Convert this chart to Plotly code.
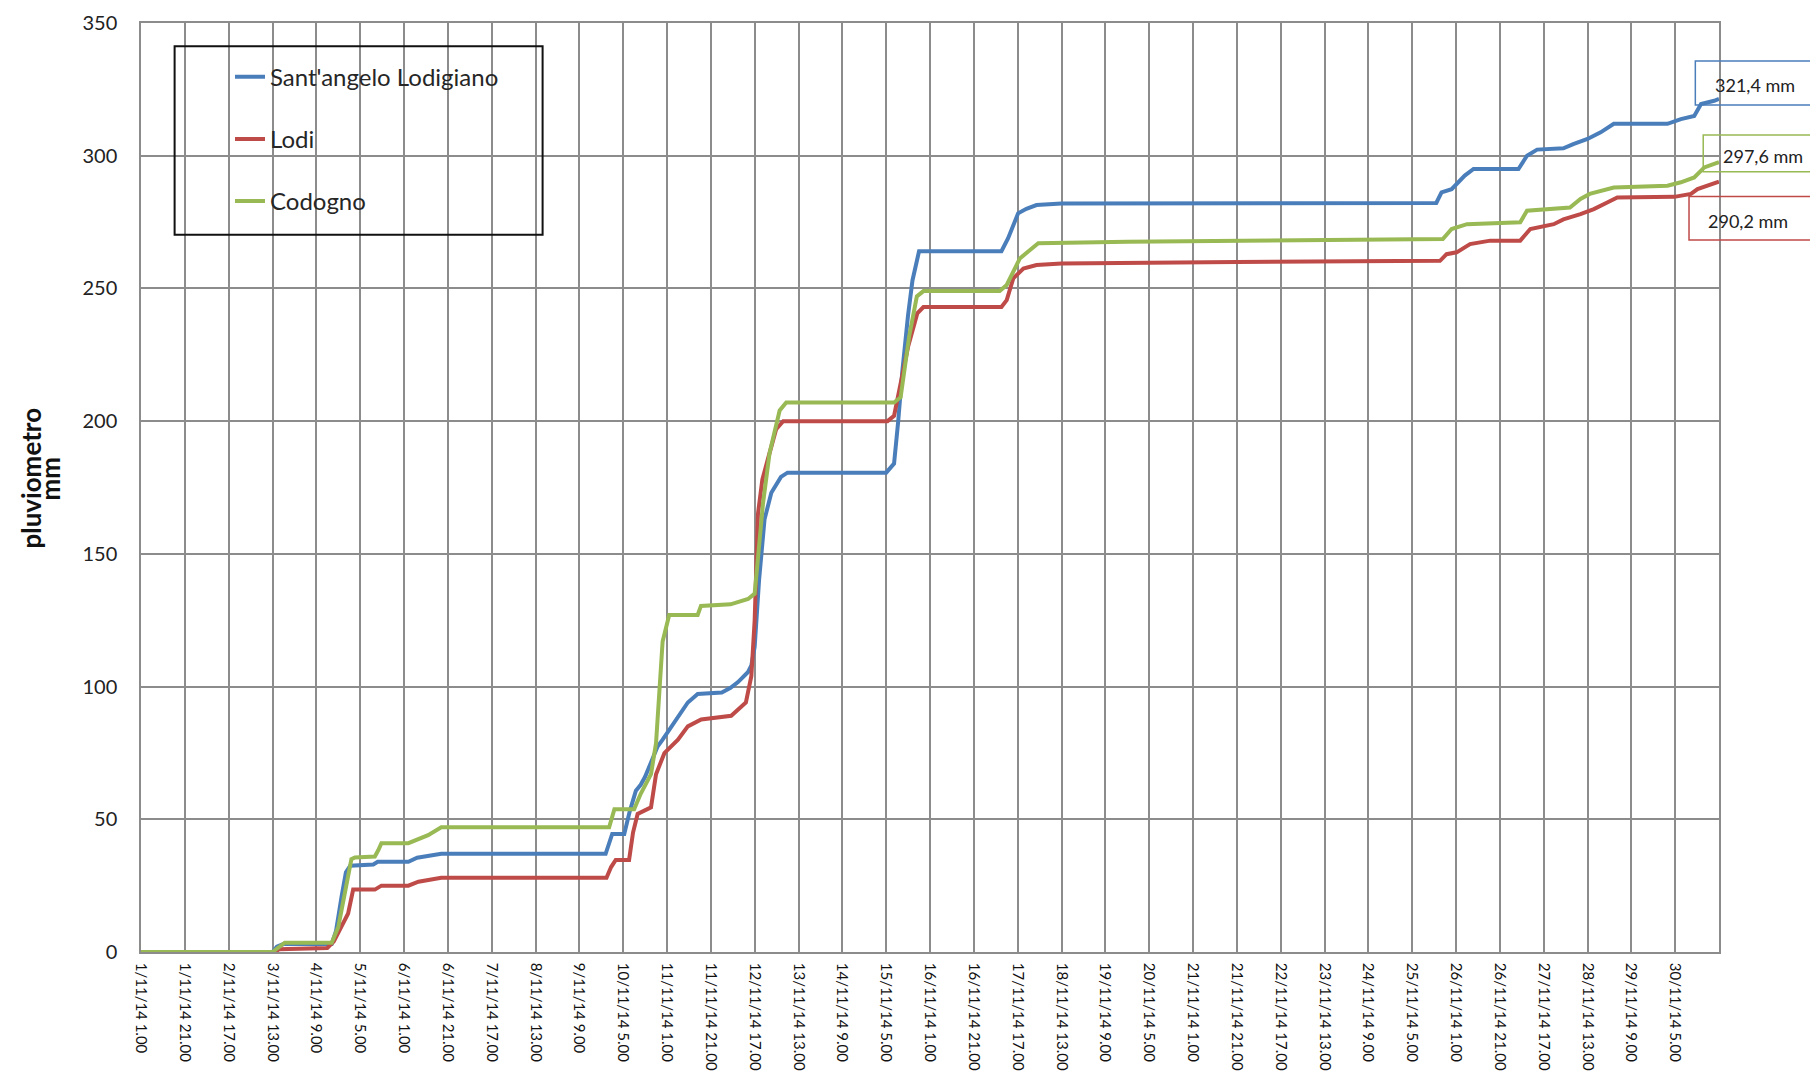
import plotly.graph_objects as go

# ---- data (hours from 1/11/14 1.00, cumulative mm) ----
hours_sa = [0, 60, 62, 65, 87, 89, 91.5, 93.5, 95.5, 106, 108, 122, 126, 132, 137, 212, 213.5, 215, 220.5,
            223, 225.8, 228, 230, 233, 235.7, 238, 240, 243, 245, 249.5, 254, 265, 269, 272.4, 277, 278.5,
            280, 282, 284.5, 287.6, 292, 295, 340, 343.6, 345.5, 347.4, 350, 352, 355, 392.6, 395.6, 398,
            400.2, 404, 408.6, 420, 591, 593.4, 598, 604, 608, 628.5, 632.4, 637, 649, 653.5, 660, 666,
            672, 696.5, 702.6, 708.7, 711.8, 717.8, 720]
mm_sa = [0, 0, 2, 3, 3, 8, 20.8, 30, 32.5, 33, 34, 34, 35.5, 36.5, 37, 37, 41, 44.5, 44.5,
         53, 60.8, 63, 66, 72, 77.4, 80, 82.5, 86, 89, 94, 97.2, 97.8, 99.5, 101.7, 105.5, 108,
         115, 140, 163, 173, 179, 180.6, 180.6, 184, 200, 219, 240, 253, 264, 264, 268.8, 274,
         278.3, 280, 281.4, 282, 282.2, 286.2, 287.4, 292.5, 295, 295, 300, 302.3, 302.8, 304.4, 306.3, 308.8,
         312, 312, 313.8, 315, 319.5, 320.7, 321.4]

hours_lodi = [0, 61, 63, 85, 88, 91.5, 94.5, 96.8, 106.7, 109.7, 122, 126.6, 137, 212.4, 214.5, 216.6, 222.7,
              224.5, 226.6, 232.7, 235, 238.8, 245, 249.5, 255.6, 269.3, 276, 278.5, 280, 281.5, 283.5, 286,
              289.8, 293, 340.6, 343.6, 346, 350, 354.2, 357, 392.6, 395, 398, 402.6, 408.6, 420, 500, 592.7,
              595.7, 600.3, 606.4, 615.6, 629.3, 633.9, 644.6, 649, 656.8, 662.9, 669, 673.6, 699.6, 707.2,
              710.2, 716.3, 720]
mm_lodi = [0, 0, 1, 1.5, 4, 9.4, 14.5, 23.5, 23.5, 25, 25, 26.5, 28, 28, 32, 34.7, 34.7,
           45, 52, 54.5, 67, 74.9, 80, 85, 87.6, 89, 94, 104, 125, 165, 178, 185.6,
           197, 200, 200, 202, 212, 228, 240.6, 243, 243, 245.6, 253.8, 257.5, 258.8, 259.4, 260, 260.4,
           262.9, 263.6, 266.7, 268, 268, 272.4, 274.2, 276, 278, 279.9, 282.4, 284.3, 284.5, 285.6,
           287.4, 289.3, 290.2]

hours_cod = [0, 60, 65.6, 87, 90, 93, 96, 97.6, 106.7, 108.3, 109.7, 122, 125, 131, 137, 213.6, 216, 225,
             228, 232.7, 235, 236.5, 238, 241, 254, 255.5, 269, 277, 280, 283.8, 286.8, 291.4, 294.4, 343.6,
             346.6, 350.5, 354, 357, 391.8, 395, 398, 401, 405.5, 409.4, 450, 594, 598, 605, 629.3, 632.4,
             652, 656.8, 661, 672, 696.5, 702.6, 708.7, 713.3, 720]
mm_cod = [0, 0, 3.5, 3.5, 9.4, 23, 35, 35.6, 36, 38.4, 41, 41, 42, 44, 47, 47, 53.8, 53.8,
          59.6, 67, 78.7, 97.8, 117, 127, 127, 130.4, 131, 133, 135, 169, 188, 204, 207, 207,
          209, 232, 247, 249, 249, 251.3, 256.3, 261.3, 264.4, 267, 267.6, 268.6, 272.4, 274.2, 274.9, 279.3,
          280.5, 283.7, 285.6, 288, 288.7, 290, 291.8, 295.6, 297.6]

series_names = ["Sant'angelo Lodigiano", "Lodi", "Codogno"]
series_colors = ["#4A7EBB", "#BE4B48", "#98B954"]
final_labels = ["321,4 mm", "290,2 mm", "297,6 mm"]

tick_hours = list(range(0, 720, 20))
tick_labels = ["1/11/14 1.00", "1/11/14 21.00", "2/11/14 17.00", "3/11/14 13.00", "4/11/14 9.00",
               "5/11/14 5.00", "6/11/14 1.00", "6/11/14 21.00", "7/11/14 17.00", "8/11/14 13.00",
               "9/11/14 9.00", "10/11/14 5.00", "11/11/14 1.00", "11/11/14 21.00", "12/11/14 17.00",
               "13/11/14 13.00", "14/11/14 9.00", "15/11/14 5.00", "16/11/14 1.00", "16/11/14 21.00",
               "17/11/14 17.00", "18/11/14 13.00", "19/11/14 9.00", "20/11/14 5.00", "21/11/14 1.00",
               "21/11/14 21.00", "22/11/14 17.00", "23/11/14 13.00", "24/11/14 9.00", "25/11/14 5.00",
               "26/11/14 1.00", "26/11/14 21.00", "27/11/14 17.00", "28/11/14 13.00", "29/11/14 9.00",
               "30/11/14 5.00"]
y_title_lines = ["pluviometro", "mm"]

FONT = "Lato"
fig = go.Figure()
for i, (xs, ys) in enumerate([(hours_sa, mm_sa), (hours_lodi, mm_lodi), (hours_cod, mm_cod)]):
    fig.add_trace(go.Scatter(x=xs, y=ys, mode="lines", name=series_names[i],
                             legendgroup=str(i),
                             line=dict(color=series_colors[i], width=4)))

grid = "#8C8C8C"
fig.update_layout(
    width=1810, height=1083,
    margin=dict(l=133, r=99, t=15, b=139, autoexpand=False),
    paper_bgcolor="white", plot_bgcolor="white",
    font=dict(family=FONT, color="#222222"),
    showlegend=True,
    legend=dict(x=0.0564, y=0.966, xanchor="left", yanchor="top",
                bgcolor="rgba(0,0,0,0)", borderwidth=0,
                font=dict(family=FONT, size=24, color="#262626"),
                traceorder="grouped", tracegroupgap=28),
    xaxis=dict(range=[0, 720], tickmode="array", tickvals=tick_hours, ticktext=tick_labels,
               tickangle=90, showgrid=True, gridcolor=grid, gridwidth=1.5, automargin=False,
               showline=True, linecolor=grid, linewidth=1.5, mirror=True,
               ticks="outside", ticklen=6, tickcolor="rgba(0,0,0,0)",
               tickfont=dict(family=FONT, size=15, color="#111111"), zeroline=False),
    yaxis=dict(range=[0, 350], tickmode="array", tickvals=list(range(0, 351, 50)),
               showgrid=True, gridcolor=grid, gridwidth=1.5, automargin=False,
               showline=True, linecolor=grid, linewidth=1.5, mirror=True,
               ticks="outside", ticklen=18, tickcolor="rgba(0,0,0,0)",
               tickfont=dict(family=FONT, size=20, color="#222222"), zeroline=False),
)

# legend frame
fig.add_shape(type="rect", xref="paper", yref="paper", x0=0.0213, x1=0.2545, y0=0.772, y1=0.975,
              line=dict(color="#111111", width=2), fillcolor="rgba(0,0,0,0)", layer="above")

# y-axis title (two lines)
for txt, px in zip(y_title_lines, [-0.0695, -0.0575]):
    fig.add_annotation(xref="paper", yref="paper", x=px, y=0.51, xanchor="center", yanchor="middle",
                       text="<b>" + txt + "</b>", textangle=-90, showarrow=False,
                       font=dict(family=FONT, size=26, color="#111111"))

# final value boxes
boxes = [(0.985, 319.1, 335.7, 326.5), (0.981, 268.2, 284.6, 275.5), (0.990, 294.0, 307.8, 300.0)]
for i, (bx0, by0, by1, ty) in enumerate(boxes):
    fig.add_shape(type="rect", xref="paper", yref="y", x0=bx0, x1=1.08, y0=by0, y1=by1,
                  line=dict(color=series_colors[i], width=1.5), fillcolor="rgba(0,0,0,0)", layer="above")
    fig.add_annotation(xref="paper", yref="y", x=bx0 + 0.011, y=ty, xanchor="left", text=final_labels[i],
                       showarrow=False, font=dict(family=FONT, size=18, color="#222222"))

fig.write_html("out.html")
